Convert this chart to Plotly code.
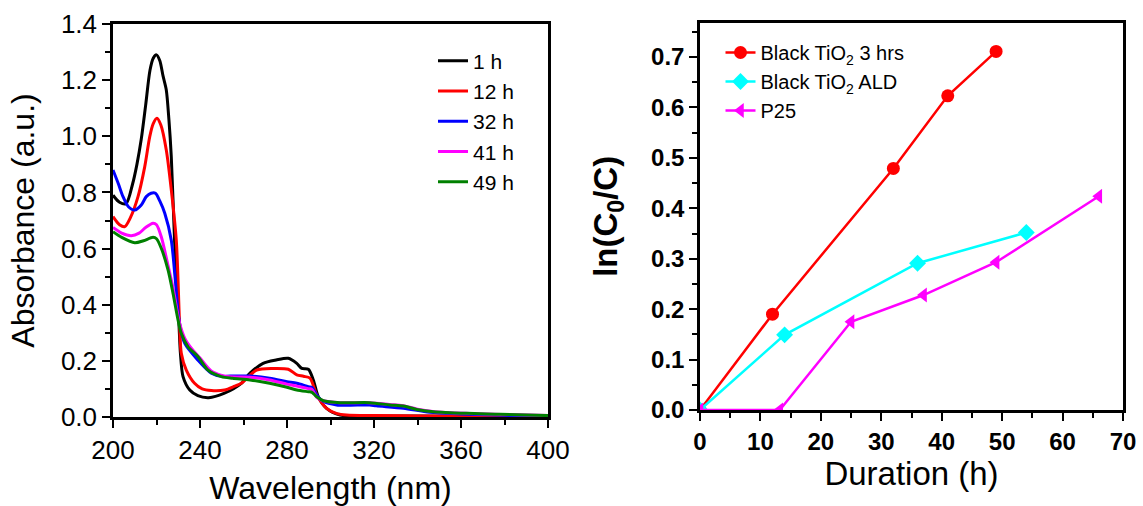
import plotly.graph_objects as go

# ---------------- Left panel: UV-vis absorbance spectra ----------------
wl_1h = [200, 203, 206, 209, 211, 213, 215, 217, 218.5, 220, 221.5, 223, 224.5, 225.7, 226.8, 228.3, 229.7,
         230.3, 231, 232.2, 235.3, 239, 244, 251, 259, 263, 269, 275, 280.6, 284.5, 286.8, 289.8, 292.1,
         294.4, 298.2, 304.4, 320, 360, 400]
abs_1h = [0.79, 0.765, 0.76, 0.83, 0.9, 0.99, 1.11, 1.235, 1.278, 1.29, 1.27, 1.215, 1.165, 1.06, 0.927,
          0.63, 0.40, 0.334, 0.227, 0.144, 0.096, 0.076, 0.069, 0.084, 0.12, 0.156, 0.191, 0.203, 0.209,
          0.191, 0.173, 0.17, 0.132, 0.072, 0.031, 0.007, 0.004, 0.003, 0.002]

wl_12h = [200, 203, 205.4, 208, 211.5, 214.6, 216.9, 218.5, 220.2, 222, 224.5, 226.8, 229.1, 230.6, 231.4,
          233.7, 237.5, 241, 245.2, 251.3, 256, 259, 266, 273.7, 280.6, 284.5, 287.6, 290.6, 293.7, 298.2,
          303, 307.4, 320, 340, 400]
abs_12h = [0.714, 0.685, 0.678, 0.71, 0.785, 0.892, 0.999, 1.045, 1.064, 1.04, 0.951, 0.809, 0.63, 0.334,
           0.227, 0.167, 0.12, 0.1, 0.094, 0.096, 0.11, 0.12, 0.167, 0.173, 0.17, 0.15, 0.145, 0.138, 0.078,
           0.031, 0.012, 0.007, 0.005, 0.004, 0.002]

wl_32h = [200, 202.5, 204.6, 207, 210, 213, 215.3, 217.5, 219.5, 221.5, 223.8, 226.8, 228.5, 230.6, 233,
          239, 245.2, 250, 254, 263, 272, 280, 284.5, 289.8, 291.5, 293.7, 296.7, 302.8, 318, 321, 333.5,
          345.7, 360, 380, 400]
abs_32h = [0.88, 0.83, 0.785, 0.75, 0.737, 0.755, 0.785, 0.797, 0.797, 0.77, 0.726, 0.63, 0.5, 0.334, 0.262,
           0.203, 0.156, 0.145, 0.146, 0.146, 0.138, 0.126, 0.12, 0.108, 0.105, 0.078, 0.055, 0.043, 0.043,
           0.04, 0.031, 0.017, 0.011, 0.006, 0.003]

wl_41h = [200, 204, 208.4, 212, 215, 218.4, 220, 222.2, 225, 227.6, 230.6, 233, 236, 240, 245, 250, 254,
          263, 272, 280, 284.5, 289.8, 291.5, 293.7, 296.7, 304.4, 318, 327, 333.5, 340, 347, 362, 380, 400]
abs_41h = [0.675, 0.655, 0.646, 0.655, 0.675, 0.69, 0.685, 0.642, 0.55, 0.46, 0.334, 0.28, 0.245, 0.21,
           0.165, 0.148, 0.143, 0.142, 0.132, 0.117, 0.11, 0.101, 0.098, 0.07, 0.058, 0.051, 0.051, 0.045,
           0.04, 0.028, 0.02, 0.013, 0.009, 0.005]

wl_49h = [200, 204, 210, 214, 218.4, 220, 222.2, 225.3, 227.6, 229.9, 231.4, 234.5, 239.1, 243.7, 249.8,
          255, 263, 272, 280, 284.5, 289.8, 291.5, 293.7, 296.7, 304.4, 318, 327.4, 333.5, 339.6, 347.3,
          362.6, 378, 400]
abs_49h = [0.66, 0.64, 0.621, 0.628, 0.64, 0.635, 0.601, 0.524, 0.44, 0.346, 0.298, 0.25, 0.215, 0.167,
           0.144, 0.138, 0.132, 0.12, 0.106, 0.096, 0.09, 0.088, 0.072, 0.058, 0.051, 0.051, 0.043, 0.039,
           0.027, 0.019, 0.013, 0.01, 0.005]

spectra_names = ["1 h", "12 h", "32 h", "41 h", "49 h"]
spectra_colors = ["#000000", "#FF0000", "#0000FF", "#FF00FF", "#008000"]
spectra_x = [wl_1h, wl_12h, wl_32h, wl_41h, wl_49h]
spectra_y = [abs_1h, abs_12h, abs_32h, abs_41h, abs_49h]

# ---------------- Right panel: kinetics ----------------
t_black3 = [0, 12, 32, 41, 49]
ln_black3 = [0.0, 0.190, 0.479, 0.623, 0.711]
t_ald = [0, 14, 36, 54]
ln_ald = [0.0, 0.149, 0.291, 0.352]
t_p25 = [0, 13.2, 25, 37, 49, 66]
ln_p25 = [0.0, 0.0, 0.175, 0.228, 0.293, 0.424]

kin_names = ["Black TiO<sub>2</sub> 3 hrs", "Black TiO<sub>2</sub> ALD", "P25"]
kin_colors = ["#FF0000", "#00FFFF", "#FF00FF"]
kin_symbols = ["circle", "diamond", "triangle-left"]
kin_x = [t_black3, t_ald, t_p25]
kin_y = [ln_black3, ln_ald, ln_p25]

FONT = "Liberation Sans, Arial, sans-serif"
W, H = 1143, 506

fig = go.Figure()
for name, col, xs, ys in zip(spectra_names, spectra_colors, spectra_x, spectra_y):
    fig.add_trace(go.Scatter(x=xs, y=ys, mode="lines", name=name,
                             line=dict(color=col, width=3, shape="spline", smoothing=0.8),
                             xaxis="x", yaxis="y", legend="legend"))

for name, col, sym, xs, ys in zip(kin_names, kin_colors, kin_symbols, kin_x, kin_y):
    fig.add_trace(go.Scatter(x=xs, y=ys, mode="lines+markers", name=name,
                             line=dict(color=col, width=2.5),
                             marker=dict(symbol=sym, size=13, color=col),
                             xaxis="x2", yaxis="y2", legend="legend2"))

axis_common = dict(showline=True, linecolor="black", linewidth=2.5, mirror=True,
                   ticks="outside", ticklen=8, tickwidth=2, tickcolor="black",
                   showgrid=False, zeroline=False, automargin=False)
minor_style = dict(ticks="outside", ticklen=5, tickwidth=2, tickcolor="black", showgrid=False)

fig.update_layout(
    width=W, height=H, autosize=False,
    margin=dict(l=0, r=0, t=0, b=0, pad=0),
    paper_bgcolor="white", plot_bgcolor="white",
    font=dict(family=FONT, color="black"),
    xaxis=dict(domain=[113 / W, 548 / W], range=[200, 400], dtick=40, tick0=200,
               minor=dict(dtick=20, **minor_style),
               tickfont=dict(size=26), anchor="y",
               title=dict(text="Wavelength (nm)", font=dict(size=32), standoff=14),
               **axis_common),
    yaxis=dict(domain=[1 - 417 / H, 1 - 24 / H], range=[0, 1.4], dtick=0.2, tickformat=".1f",
               minor=dict(dtick=0.1, **minor_style),
               tickfont=dict(size=26), anchor="x",
               title=dict(text="Absorbance (a.u.)", font=dict(size=32), standoff=17),
               **axis_common),
    xaxis2=dict(domain=[700 / W, 1123 / W], range=[0, 70], dtick=10, tick0=0,
                minor=dict(dtick=5, **minor_style),
                tickfont=dict(size=24, weight="bold"), anchor="y2",
                title=dict(text="Duration (h)", font=dict(size=33), standoff=8),
                **axis_common),
    yaxis2=dict(domain=[1 - 410 / H, 1 - 22.7 / H], range=[0, 0.768], dtick=0.1, tickformat=".1f",
                minor=dict(dtick=0.05, **minor_style),
                tickfont=dict(size=24, weight="bold"), anchor="x2",
                title=dict(text="ln(C<sub>0</sub>/C)", font=dict(size=33, weight="bold"), standoff=24),
                **axis_common),
    legend=dict(x=433 / W, y=1 - 40.5 / H, xanchor="left", yanchor="top",
                bgcolor="rgba(0,0,0,0)", font=dict(size=21), tracegroupgap=0),
    legend2=dict(x=720.5 / W, y=1 - 33 / H, xanchor="left", yanchor="top",
                 bgcolor="rgba(0,0,0,0)", font=dict(size=20), tracegroupgap=0),
    showlegend=True,
)

fig.write_html("out.html",
               config={"displayModeBar": False},
               post_script="document.body.style.margin='0';document.body.style.overflow='hidden';")
